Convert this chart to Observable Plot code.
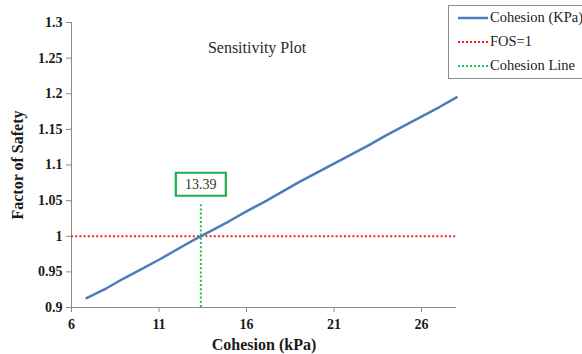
<!DOCTYPE html>
<html>
<head>
<meta charset="utf-8">
<script src="https://cdn.jsdelivr.net/npm/d3@7"></script>
<script src="https://cdn.jsdelivr.net/npm/@observablehq/plot@0.6"></script>
<style>
  html, body { margin: 0; padding: 0; background: #fff; }
  #wrap { position: relative; width: 582px; height: 354px; font-family: "Liberation Serif", "Times New Roman", serif; }
  #wrap svg text { font-family: "Liberation Serif", "Times New Roman", serif; }
  #wrap svg g[aria-label="x-axis tick label"] text,
  #wrap svg g[aria-label="y-axis tick label"] text { font-size: 14px; font-weight: bold; fill: #1a1a1a; }
  #wrap svg g[aria-label="x-axis label"] text,
  #wrap svg g[aria-label="y-axis label"] text { font-size: 16px; font-weight: bold; fill: #1a1a1a; }
  #legend {
    position: absolute; left: 448px; top: 5px; width: 140px; height: 74px;
    border: 1px solid #8c8c8c; background: #fff; box-sizing: border-box;
    font-size: 14.5px; color: #222;
  }
  #legend .row { position: absolute; left: 8px; display: flex; align-items: center; white-space: nowrap; }
  #legend svg { margin-right: 1px; }
</style>
</head>
<body>
<div id="wrap"></div>
<script>
// Cohesion (kPa) against computed factor of safety
const cohesion = [6.86, 8, 9, 10, 11, 12, 13, 14, 15, 16, 17, 18, 19, 20, 21, 22, 23, 24, 25, 26, 27, 28];
const fos = [0.913, 0.927, 0.941, 0.954, 0.967, 0.981, 0.995, 1.008, 1.021, 1.035, 1.048, 1.062, 1.076, 1.089, 1.102, 1.115, 1.128, 1.142, 1.155, 1.168, 1.181, 1.195];

// Critical cohesion where FOS = 1
const criticalCohesion = 13.39;
const fosLimit = 1;
const cohesionLineTop = 1.047;
const labelLevel = 1.073;

const xTicks = [6, 11, 16, 21, 26];
const yTicks = [0.9, 0.95, 1, 1.05, 1.1, 1.15, 1.2, 1.25, 1.3];

const seriesNames = ["Cohesion (KPa)", "FOS=1", "Cohesion Line"];
const seriesColors = ["#4a7ebb", "#ff2020", "#1cbf4f"];

const curve = cohesion.map((c, i) => ({c, f: fos[i]}));

const serif = "Liberation Serif, Times New Roman, serif";

// Rectangular callout symbol for the crossing label
const calloutBox = {draw(ctx) { ctx.rect(-25, -11.5, 50, 23); }};

const chart = Plot.plot({
  width: 582,
  height: 354,
  marginLeft: 71,
  marginRight: 126,
  marginTop: 22,
  marginBottom: 47,
  style: {fontFamily: serif, fontSize: "14px", background: "#fff", overflow: "visible"},
  x: {domain: [6, 28]},
  y: {domain: [0.9, 1.3]},
  marks: [
    Plot.axisX({ticks: xTicks, tickSize: 5, stroke: "#8c8c8c", tickPadding: 7,
      label: "Cohesion (kPa)", labelAnchor: "center", labelOffset: 42, labelArrow: "none"}),
    Plot.axisY({ticks: yTicks, tickSize: 5, stroke: "#8c8c8c", tickPadding: 4, tickFormat: d => String(+d.toFixed(2)),
      label: "Factor of Safety", labelAnchor: "center", labelOffset: 60, labelArrow: "none"}),
    Plot.ruleX([6], {stroke: "#8c8c8c"}),
    Plot.ruleY([0.9], {stroke: "#8c8c8c"}),
    Plot.ruleY([fosLimit], {stroke: seriesColors[1], strokeWidth: 2, strokeDasharray: "2,2.2"}),
    Plot.ruleX([criticalCohesion], {y1: 0.9, y2: cohesionLineTop, stroke: seriesColors[2], strokeWidth: 2, strokeDasharray: "2,2.2"}),
    Plot.line(curve, {x: "c", y: "f", stroke: seriesColors[0], strokeWidth: 2.5}),
    Plot.dot([criticalCohesion], {x: d => d, y: labelLevel, symbol: calloutBox, fill: "#fff", stroke: "#1cb04a", strokeWidth: 2.2}),
    Plot.text([criticalCohesion], {x: d => d, y: labelLevel, text: d => d.toFixed(2), fontSize: 14, fill: "#333"}),
    Plot.text(["Sensitivity Plot"], {frameAnchor: "top", dy: 19, x: 16.6, text: d => d, fontSize: 16, fill: "#2a2a2a", textAnchor: "middle"})
  ]
});

const wrap = document.getElementById("wrap");
wrap.appendChild(chart);

// Legend box on the right
const legend = document.createElement("div");
legend.id = "legend";
seriesNames.forEach((name, i) => {
  const row = document.createElement("div");
  row.className = "row";
  row.style.top = (3 + i * 24) + "px";
  const dash = i === 0 ? "" : `stroke-dasharray="2,2"`;
  const w = i === 0 ? 2.5 : 2;
  row.innerHTML = `<svg width="32" height="10"><line x1="1" y1="5" x2="31" y2="5" stroke="${seriesColors[i]}" stroke-width="${w}" ${dash}/></svg><span>${name}</span>`;
  legend.appendChild(row);
});
wrap.appendChild(legend);
</script>
</body>
</html>
